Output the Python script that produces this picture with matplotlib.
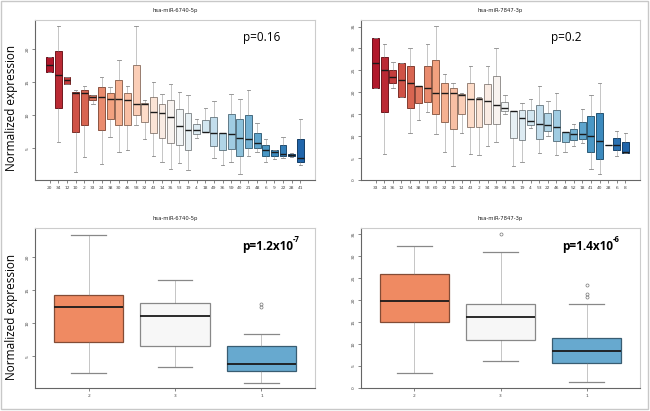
import matplotlib
matplotlib.use("Agg")
import matplotlib.pyplot as plt
from matplotlib import colors as mcolors
from matplotlib.patches import Rectangle
import numpy as np

# ---- data ----
# hsa-miR-6740-5p, one box per sample
tl_labels = ["20", "34", "12", "10", "2", "33", "24", "38", "30", "46", "58", "32", "43", "14", "35",
             "53", "19", "4", "18", "49", "36", "59", "40", "21", "48", "6", "9", "22", "28", "41"]
tl_whishi = [18.8, 23.5, 15.8, 13.8, 14.4, 13.0, 15.8, 14.2, 18.3, 14.4, 23.5, 12.3, 15.0, 13.2, 14.7,
             13.5, 13.0, 9.5, 11.1, 12.1, 7.3, 13.2, 12.5, 13.8, 8.8, 6.4, 4.8, 6.7, 4.3, 9.4]
tl_q3 = [18.8, 19.75, 15.8, 13.5, 13.8, 13.0, 14.2, 13.3, 15.4, 13.3, 17.6, 11.9, 12.7, 11.7, 12.3,
         11.0, 10.3, 8.6, 9.2, 9.7, 7.3, 10.2, 9.4, 10.0, 7.3, 5.5, 4.7, 5.5, 4.2, 6.4]
tl_med = [17.6, 16.06, 15.3, 13.4, 13.4, 12.8, 12.8, 12.5, 12.5, 12.3, 11.7, 11.7, 10.5, 10.3, 9.8,
          8.3, 7.8, 7.8, 7.5, 7.3, 7.3, 7.1, 6.5, 6.4, 5.8, 4.7, 4.4, 4.2, 4.0, 3.5]
tl_q1 = [16.5, 11.06, 14.75, 7.4, 8.5, 12.3, 7.7, 9.5, 8.5, 8.5, 10.0, 9.0, 7.3, 6.5, 5.8,
         5.5, 4.7, 7.1, 7.4, 5.4, 4.8, 4.9, 3.8, 5.1, 5.1, 3.9, 3.9, 3.9, 3.8, 2.9]
tl_whislo = [16.5, 5.9, 14.75, 1.36, 3.7, 11.7, 2.6, 6.7, 4.4, 4.7, 8.5, 6.4, 3.9, 2.9, 1.8,
             2.7, 1.7, 6.5, 7.4, 3.5, 2.5, 2.9, 1.1, 3.8, 4.5, 2.9, 3.4, 3.5, 3.7, 2.4]

# hsa-miR-7847-3p, one box per sample
tr_labels = ["33", "24", "36", "12", "54", "38", "58", "60", "32", "10", "14", "43", "2", "34", "39",
             "56", "35", "19", "4", "53", "22", "46", "48", "52", "18", "41", "40", "28", "6", "8"]
tr_whishi = [32.3, 31.1, 26.9, 26.8, 30.1, 21.4, 31.1, 35.2, 24.1, 22.1, 19.8, 26.0, 18.9, 26.0, 30.1,
             19.3, 15.7, 17.5, 18.4, 21.4, 18.0, 19.8, 10.9, 12.7, 16.1, 19.3, 22.1, 7.9, 11.1, 10.7]
tr_q3 = [32.3, 28.0, 25.0, 26.8, 26.0, 21.4, 26.0, 27.3, 22.1, 20.9, 19.6, 22.1, 18.6, 21.8, 23.7,
         17.7, 15.7, 15.9, 15.9, 17.0, 15.2, 15.9, 10.9, 11.6, 13.2, 14.5, 15.2, 7.9, 9.5, 8.6]
tr_med = [26.6, 25.0, 23.5, 22.8, 22.1, 21.4, 20.9, 19.8, 19.8, 19.8, 19.3, 18.4, 18.4, 18.0, 17.0,
          16.4, 15.7, 14.2, 13.4, 12.7, 12.5, 12.0, 10.9, 10.4, 10.4, 10.0, 8.8, 7.9, 7.9, 6.5]
tr_q1 = [20.9, 15.4, 22.2, 18.9, 16.4, 17.6, 17.7, 15.1, 13.2, 11.6, 15.0, 12.0, 12.0, 12.7, 12.7,
         15.7, 9.5, 9.1, 12.5, 9.3, 11.1, 8.8, 8.6, 9.1, 9.3, 6.3, 4.9, 7.9, 6.8, 6.1]
tr_whislo = [20.9, 5.9, 20.9, 18.9, 10.7, 13.7, 15.5, 10.4, 6.5, 3.3, 10.7, 5.9, 5.6, 7.7, 8.6,
             15.0, 3.3, 4.0, 11.8, 6.1, 10.0, 5.6, 6.3, 7.7, 8.4, 2.4, 1.3, 7.9, 5.4, 6.1]

# grouped into clusters
grp_labels = ["2", "3", "1"]
grp_colors = ["#EF8A62", "#F7F7F7", "#67A9CF"]

bl_whishi = [23.4, 16.5, 8.4]
bl_q3 = [14.3, 13.1, 6.5]
bl_med = [12.4, 11.06, 3.9]
bl_q1 = [7.1, 6.6, 2.7]
bl_whislo = [2.4, 3.33, 1.0]
bl_fliers = [[], [], [12.9, 12.5]]

br_whishi = [32.3, 31.05, 19.2]
br_q3 = [25.9, 19.2, 11.4]
br_med = [19.9, 16.1, 8.4]
br_q1 = [15.0, 10.9, 5.75]
br_whislo = [3.4, 6.1, 1.36]
br_fliers = [[], [35.0], [23.5, 21.4, 20.8]]


def darker(c, f=0.65):
    r, g, b = mcolors.to_rgb(c)
    return (r * f, g * f, b * f)


def make_stats(lo, q1, med, q3, hi, fliers=None):
    stats = []
    for i in range(len(med)):
        stats.append({"whislo": lo[i], "q1": q1[i], "med": med[i], "q3": q3[i], "whishi": hi[i],
                      "fliers": fliers[i] if fliers else []})
    return stats


def draw_panel(ax, stats, fills, labels, title, ylim, yticks, small):
    pos = np.arange(1, len(stats) + 1)
    bp = ax.bxp(stats, positions=pos, widths=0.8, patch_artist=True, showfliers=True,
                manage_ticks=False)
    for i, box in enumerate(bp["boxes"]):
        box.set_facecolor(fills[i])
        box.set_edgecolor(darker(fills[i], 0.6) if small else darker(fills[i], 0.55))
        box.set_linewidth(0.7 if small else 0.9)
    for m in bp["medians"]:
        m.set_color("#1a1a1a")
        m.set_linewidth(1.0 if small else 1.3)
    for w in bp["whiskers"]:
        w.set_color("#777777")
        w.set_linestyle((0, (1.2, 1.2)))
        w.set_linewidth(0.6)
    for c in bp["caps"]:
        c.set_color("#888888")
        c.set_linewidth(0.6 if small else 0.9)
    for f in bp["fliers"]:
        f.set_marker("o")
        f.set_markersize(2.2)
        f.set_markerfacecolor("none")
        f.set_markeredgecolor("#777777")
        f.set_markeredgewidth(0.5)

    n = len(stats)
    ax.set_xlim(0.5 - 0.04 * n, n + 0.5 + 0.04 * n)
    ax.set_ylim(*ylim)
    ax.set_xticks(pos)
    ax.set_xticklabels(labels)
    ax.set_yticks(yticks)
    ax.set_yticklabels([str(t) for t in yticks], rotation=90, va="center")
    ax.tick_params(labelsize=3.2, length=2, width=0.5, color="#555555", labelcolor="#444444", pad=2)
    for s in ["left", "bottom"]:
        ax.spines[s].set_color("#666666")
        ax.spines[s].set_linewidth(0.8)
    for s in ["top", "right"]:
        ax.spines[s].set_color("#cccccc")
        ax.spines[s].set_linewidth(0.8)
    ax.set_title(title, fontsize=3.8, color="#222222", pad=6)


fig = plt.figure(figsize=(6.5, 4.11), dpi=100)
W, H = 650.0, 411.0

def axes_px(l, t, r, b):
    return fig.add_axes([l / W, 1 - b / H, (r - l) / W, (b - t) / H])

cmap = plt.get_cmap("RdBu")
ramp = [cmap(v) for v in np.linspace(0.1, 0.9, 30)]

ax1 = axes_px(35, 20, 315, 180)
draw_panel(ax1, make_stats(tl_whislo, tl_q1, tl_med, tl_q3, tl_whishi), ramp, tl_labels,
           "hsa-miR-6740-5p", (0.2, 24.4), [5, 10, 15, 20], True)
ax2 = axes_px(361, 20, 640, 180)
draw_panel(ax2, make_stats(tr_whislo, tr_q1, tr_med, tr_q3, tr_whishi), ramp, tr_labels,
           "hsa-miR-7847-3p", (0, 36.5), [0, 5, 10, 15, 20, 25, 30, 35], True)
ax3 = axes_px(35, 228, 315, 388)
draw_panel(ax3, make_stats(bl_whislo, bl_q1, bl_med, bl_q3, bl_whishi, bl_fliers), grp_colors, grp_labels,
           "hsa-miR-6740-5p", (0.2, 24.4), [5, 10, 15, 20], False)
ax4 = axes_px(361, 228, 640, 388)
draw_panel(ax4, make_stats(br_whislo, br_q1, br_med, br_q3, br_whishi, br_fliers), grp_colors, grp_labels,
           "hsa-miR-7847-3p", (0, 36.4), [0, 5, 10, 15, 20, 25, 30, 35], False)

pfont = ["Open Sans", "DejaVu Sans"]
fig.text(12 / W, 1 - 108 / H, "Normalized expression", rotation=90, ha="center", va="center",
         fontsize=8.5, family=pfont)
fig.text(12 / W, 1 - 317 / H, "Normalized expression", rotation=90, ha="center", va="center",
         fontsize=8.5, family=pfont)

fig.text(243 / W, 1 - 38 / H, "p=0.16", ha="left", va="center", fontsize=8.5, family=pfont)
fig.text(551 / W, 1 - 38 / H, "p=0.2", ha="left", va="center", fontsize=8.5, family=pfont)

# bold p-values with a superscript exponent next to them
for x, base, exp in [(242, "p=1.2x10", "-7"), (562, "p=1.4x10", "-6")]:
    t = fig.text(x / W, 1 - 246 / H, base, ha="left", va="center", fontsize=8.5,
                 fontweight="bold", family=pfont)
    fig.add_artist(matplotlib.text.Annotation(exp, xy=(1.0, 0.62), xycoords=t, fontsize=5.5,
                                               fontweight="bold", family=pfont, va="bottom"))

fig.add_artist(Rectangle((1 / W, 2 / H), 647 / W, 408 / H, transform=fig.transFigure,
                         fill=False, edgecolor="#c8c8c8", linewidth=1.0))

fig.savefig("out.png", dpi=100)
